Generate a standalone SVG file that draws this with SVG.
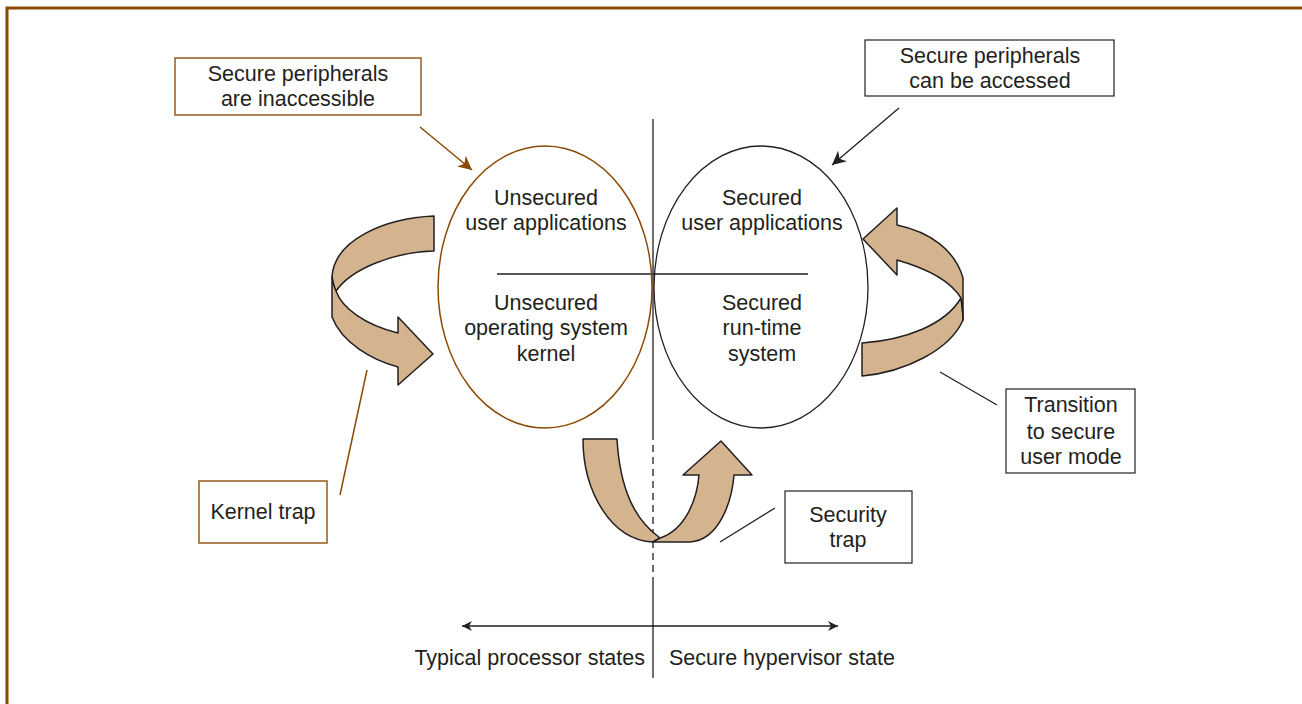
<svg xmlns="http://www.w3.org/2000/svg" width="1302" height="704" viewBox="0 0 1302 704">
<defs>
<marker id="ab" viewBox="0 0 10 10" refX="10" refY="5" markerWidth="10" markerHeight="10" markerUnits="userSpaceOnUse" orient="auto"><path d="M0,0 L10,5 L0,10 L3,5 Z" fill="#222"/></marker>
<marker id="abr" viewBox="0 0 10 10" refX="10" refY="5" markerWidth="14" markerHeight="14" markerUnits="userSpaceOnUse" orient="auto"><path d="M0,0 L10,5 L0,10 L3,5 Z" fill="#8B4A00"/></marker>
<marker id="abk" viewBox="0 0 10 10" refX="10" refY="5" markerWidth="14" markerHeight="14" markerUnits="userSpaceOnUse" orient="auto"><path d="M0,0 L10,5 L0,10 L3,5 Z" fill="#222"/></marker>
</defs>
<style>
text{font-family:"Liberation Sans",Arial,sans-serif;font-size:21.5px;fill:#231f20;text-anchor:middle}
.bb{fill:#fff;stroke:#9a5a1c;stroke-width:1.5}
.kb{fill:#fff;stroke:#231f20;stroke-width:1.2}
.ln{stroke:#231f20;stroke-width:1.3;fill:none}
.lb{stroke:#8B4A00;stroke-width:1.5;fill:none}
.rib{fill:#D4B48F;stroke:#231f20;stroke-width:1.5;stroke-linejoin:round}
</style>
<rect width="1302" height="704" fill="#fff"/>
<path d="M7,704 L7,8 L1302,8" fill="none" stroke="#8B4A00" stroke-width="3"/>

<g id="connectors">
<line class="ln" x1="653" y1="119" x2="653" y2="433"/>
<line class="ln" x1="653" y1="433" x2="653" y2="582" stroke-dasharray="7,5"/>
<line class="ln" x1="653" y1="582" x2="653" y2="678"/>
<line class="ln" x1="497" y1="274" x2="808" y2="274"/>
<line class="ln" x1="652" y1="626" x2="838" y2="626" marker-end="url(#ab)"/>
<line class="ln" x1="654" y1="626" x2="462" y2="626" marker-end="url(#ab)"/>
<line class="lb" x1="420" y1="127" x2="472" y2="170" marker-end="url(#abr)"/>
<line class="ln" x1="899" y1="108" x2="832" y2="165" marker-end="url(#abk)"/>
<line class="lb" x1="367" y1="370" x2="340" y2="495"/>
<line class="ln" x1="940" y1="372" x2="997" y2="405"/>
<line class="ln" x1="720" y1="542" x2="775" y2="508"/>
</g>

<g id="ribbon-left">
<path class="rib" d="M434,216 C385,218 334,240 332,277 C333,283 334,287 336,291 C352,268 395,252 434,251 Z"/>
<path class="rib" d="M332,277 L332,317 C342,343 372,360 398,367 L398,385 L433,354 L398,317 L398,333 C365,325 342,308 336,291 C334,287 333,283 332,277 Z"/>
</g>
<g id="ribbon-right">
<path class="rib" d="M862,343 C905,340 945,325 961,298 C962,305 963,312 963,320 C950,350 905,372 862,376 Z"/>
<path class="rib" d="M963,320 L963,278 C955,250 930,232 897,225 L897,208 L863,239 L897,275 L897,260 C925,268 950,280 961,298 C962,305 963,312 963,320 Z"/>
</g>
<g id="ribbon-bottom">
<path class="rib" d="M583,439 L617,439 C620,490 635,520 660,538 L653,542 C610,540 583,490 583,439 Z"/>
<path class="rib" d="M653,542 L690,542 C720,540 732,500 734,475 L752,475 L721,441 L683,475 L699,475 C697,500 685,530 660,538 Z"/>
</g>

<g id="unsecured">
<ellipse cx="545" cy="287" rx="107" ry="141" fill="none" stroke="#8B4A00" stroke-width="1.5"/>
<text x="546" y="205">Unsecured</text>
<text x="546" y="230">user applications</text>
<text x="546" y="310">Unsecured</text>
<text x="546" y="335">operating system</text>
<text x="546" y="361">kernel</text>
</g>
<g id="secured">
<ellipse cx="761" cy="287" rx="107" ry="141" fill="none" stroke="#231f20" stroke-width="1.3"/>
<text x="762" y="205">Secured</text>
<text x="762" y="230">user applications</text>
<text x="762" y="310">Secured</text>
<text x="762" y="335">run-time</text>
<text x="762" y="361">system</text>
</g>

<g id="box-inaccessible">
<rect class="bb" x="175" y="58" width="246" height="57"/>
<text x="298" y="81">Secure peripherals</text>
<text x="298" y="106">are inaccessible</text>
</g>
<g id="box-accessed">
<rect class="kb" x="865" y="40" width="249" height="56"/>
<text x="990" y="63">Secure peripherals</text>
<text x="990" y="88">can be accessed</text>
</g>
<g id="box-kernel">
<rect class="bb" x="199" y="481" width="128" height="62"/>
<text x="263" y="519">Kernel trap</text>
</g>
<g id="box-security">
<rect class="kb" x="785" y="491" width="127" height="72"/>
<text x="848" y="522">Security</text>
<text x="848" y="547">trap</text>
</g>
<g id="box-transition">
<rect class="kb" x="1006" y="389" width="129" height="84"/>
<text x="1071" y="412">Transition</text>
<text x="1071" y="439">to secure</text>
<text x="1071" y="464">user mode</text>
</g>
<g id="axis-labels">
<text x="645" y="665" style="text-anchor:end">Typical processor states</text>
<text x="669" y="665" style="text-anchor:start">Secure hypervisor state</text>
</g>
</svg>
